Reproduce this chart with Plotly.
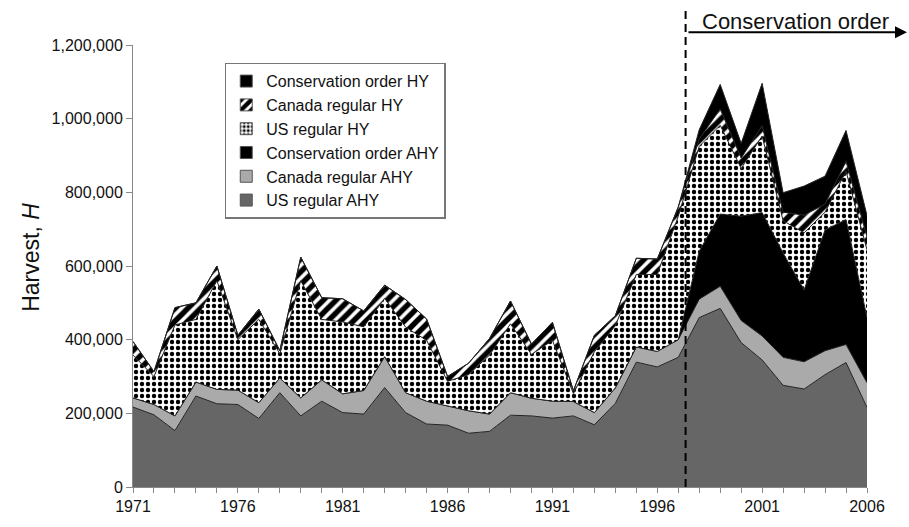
import plotly.graph_objects as go

years = list(range(1971, 2007))

# Harvest per component (thousands of birds)
us_regular_ahy = [217, 196, 153, 247, 226, 224, 186, 256, 193, 233, 202, 198, 270, 202, 171, 168, 146, 151,
                  195, 193, 187, 193, 169, 227, 339, 326, 352, 460, 485, 392, 345, 276, 266, 305, 338, 216]
canada_regular_ahy = [25, 28, 40, 38, 39, 39, 43, 40, 49, 58, 51, 64, 84, 54, 62, 52, 61, 47,
                      61, 48, 46, 39, 33, 42, 41, 42, 48, 50, 60, 60, 65, 76, 74, 65, 49, 67]
conservation_order_ahy = [0] * 27 + [130, 196, 283, 335, 283, 195, 328, 339, 177]
us_regular_hy = [116, 76, 247, 170, 295, 137, 226, 66, 318, 164, 195, 173, 158, 178, 165, 67, 98, 160,
                 187, 119, 165, 22, 165, 169, 197, 209, 335, 285, 241, 130, 208, 88, 155, 48, 131, 184]
canada_regular_hy = [37, 13, 47, 45, 40, 12, 28, 8, 64, 59, 63, 43, 36, 75, 58, 13, 31, 45,
                     62, 28, 49, 7, 45, 27, 44, 42, 25, 20, 44, 28, 28, 23, 48, 22, 27, 35]
conservation_order_hy = [0] * 27 + [25, 67, 40, 115, 53, 79, 76, 84, 58]

x_tick_years = [1971, 1976, 1981, 1986, 1991, 1996, 2001, 2006]
y_ticks = [0, 200000, 400000, 600000, 800000, 1000000, 1200000]
order_start = 1997.35

FONT = "Arial, 'Liberation Sans', sans-serif"

dots = dict(shape=".", fgcolor="black", bgcolor="white", size=6, solidity=0.42, fgopacity=1)
stripes = dict(shape="/", fgcolor="black", bgcolor="white", size=9, solidity=0.6, fgopacity=1)

series = [
    ("US regular AHY", us_regular_ahy, "#666666", None),
    ("Canada regular AHY", canada_regular_ahy, "#aaaaaa", None),
    ("Conservation order AHY", conservation_order_ahy, "#000000", None),
    ("US regular HY", us_regular_hy, "white", dots),
    ("Canada regular HY", canada_regular_hy, "white", stripes),
    ("Conservation order HY", conservation_order_hy, "#000000", None),
]

fig = go.Figure()
for name, vals, color, pat in series:
    kw = dict(fillcolor=color)
    if pat:
        kw["fillpattern"] = pat
    fig.add_trace(go.Scatter(
        x=years, y=[v * 1000 for v in vals], name=name, mode="lines",
        stackgroup="one", line=dict(color="#222222", width=1),
        hoverinfo="skip", showlegend=False, **kw))

# legend proxies (small square swatches)
for name, vals, color, pat in series:
    mk = dict(color=color, line=dict(color="#555555", width=1))
    if pat:
        p = dict(pat)
        p["size"] = 5 if pat is dots else 9
        mk["pattern"] = p
    fig.add_trace(go.Bar(x=[None], y=[None], name=name, marker=mk, showlegend=True,
                         hoverinfo="skip"))

fig.update_layout(
    width=909, height=527,
    margin=dict(l=133, r=42, t=45, b=33),
    paper_bgcolor="white", plot_bgcolor="white",
    font=dict(family=FONT, size=16, color="#111111"),
    showlegend=True,
    legend=dict(traceorder="reversed", x=0.125, y=0.96, xanchor="left", yanchor="top",
                bgcolor="white", bordercolor="#777777", borderwidth=1.5,
                font=dict(family=FONT, size=16, color="#111111"),
                tracegroupgap=0),
    xaxis=dict(type="linear", range=[1971, 2006], tickvals=x_tick_years,
               ticktext=[str(y) for y in x_tick_years],
               ticks="outside", ticklen=5, tickcolor="#888888", showline=True,
               linecolor="#888888", linewidth=1, showgrid=False, zeroline=False,
               tickfont=dict(size=16),
               minor=dict(ticks="outside", dtick=1, tick0=1971, ticklen=5, tickcolor="#888888")),
    yaxis=dict(range=[0, 1200000], tickvals=y_ticks, tickformat=",d",
               ticks="outside", ticklen=6, tickcolor="#888888", showline=True,
               linecolor="#888888", linewidth=1, showgrid=False, zeroline=False,
               tickfont=dict(size=16)),
    shapes=[dict(type="line", xref="x", yref="paper", x0=order_start, x1=order_start,
                 y0=0, y1=1.082, line=dict(color="black", width=2, dash="8px,5px"),
                 layer="above")],
    annotations=[
        dict(text="Harvest, <i>H</i>", xref="paper", yref="paper", x=-0.140, y=0.519,
             textangle=-90, showarrow=False, font=dict(size=23, family=FONT, color="#111111"),
             xanchor="center", yanchor="middle"),
        dict(text="Conservation order", xref="paper", yref="paper", x=0.9030, y=1.0535,
             showarrow=False, font=dict(size=22, family=FONT, color="#111111"),
             xanchor="center", yanchor="middle"),
        dict(text="", xref="paper", yref="paper", x=1.0545, y=1.029,
             ax=-220, ay=0, axref="pixel", ayref="pixel", showarrow=True,
             arrowhead=2, arrowsize=1.2, arrowwidth=2, arrowcolor="black", standoff=0),
    ],
)

fig.write_html("out.html")
